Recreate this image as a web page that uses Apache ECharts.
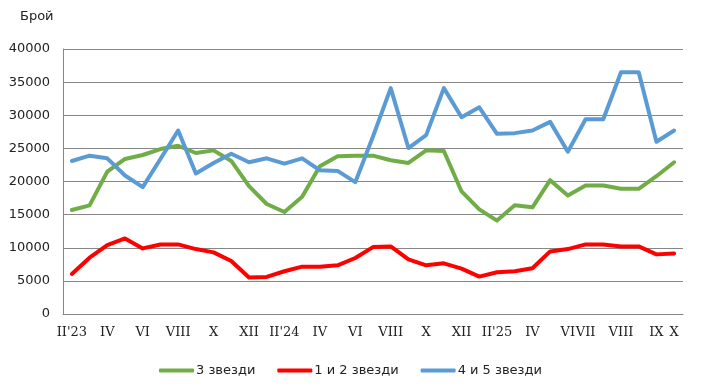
<!DOCTYPE html>
<html>
<head>
<meta charset="utf-8">
<script src="https://cdn.jsdelivr.net/npm/echarts@6/dist/echarts.min.js"></script>
<style>
html,body{margin:0;padding:0;background:#fff;}
#chart{width:723px;height:386px;}
</style>
</head>
<body>
<div id="chart"></div>
<script>
// 35 monthly points, II'23 .. X'25 (with repeated months in 2025 as in source)
const categories = ["II'23","III","IV","V","VI","VII","VIII","IX","X","XI","XII","I'24",
  "II'24","III","IV","V","VI","VII","VIII","IX","X","XI","XII","I'25",
  "II'25","III","IV","V","VI","VII","VII","VIII","VIII","IX","X"];
// labels actually shown under the axis ("" = no label)
const tickLabels = ["II'23","","IV","","VI","","VIII","","X","","XII","",
  "II'24","","IV","","VI","","VIII","","X","","XII","",
  "II'25","","IV","","VI","VII","","VIII","","IX","X"];
const yTicks = [0,5000,10000,15000,20000,25000,30000,35000,40000];

const seriesNames = ["3 звезди","1 и 2 звезди","4 и 5 звезди"];
const stars3 = [15700,16400,21500,23400,24000,24900,25400,24300,24700,23100,19300,16600,
  15400,17700,22300,23800,23900,23900,23200,22800,24700,24600,18500,15800,
  14100,16400,16100,20200,17900,19400,19400,18900,18900,20800,22900];
const stars12 = [6050,8500,10400,11400,9900,10500,10500,9800,9300,8000,5500,5600,
  6450,7150,7150,7350,8450,10100,10200,8250,7350,7650,6850,5650,
  6300,6450,6900,9450,9800,10500,10500,10200,10200,9000,9150];
const stars45 = [23100,23900,23500,20900,19150,23400,27700,21200,22800,24200,22900,23500,
  22700,23500,21700,21600,19900,26800,34100,25050,27000,34100,29700,31200,
  27200,27300,27700,29000,24500,29400,29400,36500,36500,26000,27700];

const colors = ['#70AD47','#FF0000','#5B9BD5'];
const chart = echarts.init(document.getElementById('chart'));
const mk = (name, data, color) => ({
  name, type:'line', data, showSymbol:false, symbol:'none',
  lineStyle:{color, width:4, cap:'round', join:'round'}, itemStyle:{color},
  animation:false
});
chart.setOption({
  animation:false,
  grid:{left:63,right:40,top:49,bottom:72},
  graphic:[{type:'text',left:20,top:10,style:{text:'Брой',font:'13px "DejaVu Sans"',fill:'#222'}}],
  legend:{
    left:154, top:359, itemWidth:35, itemHeight:4, itemGap:22, icon:'roundRect',
    textStyle:{fontFamily:'DejaVu Sans',fontSize:13,color:'#222',padding:[0,0,0,-3]},
    data:seriesNames
  },
  xAxis:{
    type:'category', data:categories, boundaryGap:true,
    axisLine:{lineStyle:{color:'#868686',width:1}},
    axisTick:{show:false},
    axisLabel:{interval:0, margin:12, fontFamily:'DejaVu Serif', fontSize:13, color:'#222',
      formatter:(v,i)=>tickLabels[i]}
  },
  yAxis:{
    type:'value', min:yTicks[0], max:yTicks[yTicks.length-1], interval:yTicks[1]-yTicks[0],
    axisLine:{show:true,lineStyle:{color:'#868686',width:1}},
    axisTick:{show:false},
    splitLine:{lineStyle:{color:'#868686',width:1}},
    axisLabel:{margin:13, fontFamily:'DejaVu Sans', fontSize:13, color:'#222',
      formatter:v=>String(v)}
  },
  series:[mk(seriesNames[0],stars3,colors[0]),mk(seriesNames[1],stars12,colors[1]),mk(seriesNames[2],stars45,colors[2])]
});
</script>
</body>
</html>
